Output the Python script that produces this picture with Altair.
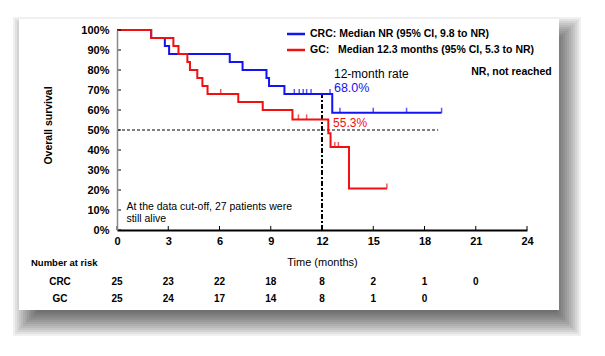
import altair as alt
import pandas as pd

# ---------------- data ----------------
crc_time = [0, 2.0, 2.8, 3.05, 6.6, 7.35, 8.75, 8.9, 9.8, 12.6, 19.0]
crc_surv = [100, 96, 92, 88, 84, 80, 76, 72, 68, 58.6, 58.6]
gc_time = [0, 2.0, 3.3, 3.6, 4.12, 4.27, 4.7, 5.0, 5.3, 7.1, 8.53, 10.27, 12.37, 12.5, 13.58, 15.8]
gc_surv = [100, 96, 92, 88, 84, 80, 76, 72, 68, 64, 60, 55.3, 48.4, 41.5, 20.7, 20.7]
crc_cens_time = [10.38, 10.67, 10.9, 11.1, 11.36, 12.47, 13.05, 15.0, 16.95, 19.0]
crc_cens_surv = [68, 68, 68, 68, 68, 68, 58.6, 58.6, 58.6, 58.6]
gc_cens_time = [6.07, 10.62, 11.1, 12.75, 12.96, 15.8]
gc_cens_surv = [68, 55.3, 55.3, 41.5, 41.5, 20.7]
risk_months_crc = [0, 3, 6, 9, 12, 15, 18, 21]
crc_risk = [25, 23, 22, 18, 8, 2, 1, 0]
risk_months_gc = [0, 3, 6, 9, 12, 15, 18]
gc_risk = [25, 24, 17, 14, 8, 1, 0]
x_ticks = [0, 3, 6, 9, 12, 15, 18, 21, 24]
y_ticks = [0, 10, 20, 30, 40, 50, 60, 70, 80, 90, 100]
median_line = 50
median_line_end = 18.8
landmark_month = 12
landmark_top = 68

BLUE = "#1414f0"
RED = "#f01010"
FONT = "Liberation Sans"

W, H = 410, 200

xscale = alt.Scale(domain=[0, 24], nice=False, zero=False)
yscale = alt.Scale(domain=[0, 100], nice=False)
xaxis = alt.Axis(values=x_ticks, title="Time (months)", grid=False, ticks=False, zindex=2,
                 domainColor="black", domainWidth=2, labelFont=FONT, labelFontSize=11,
                 labelFontWeight="bold", labelColor="black", labelPadding=5, labelFlush=False,
                 titleFont=FONT, titleFontSize=11, titleFontWeight="normal", titleColor="black",
                 titleY=32, titleBaseline="middle")
yaxis = alt.Axis(values=y_ticks, title="Overall survival", grid=False, ticks=False, zindex=2,
                 domainColor="#8a8a8a", domainWidth=1.5, labelFont=FONT, labelFontSize=11,
                 labelFontWeight="bold", labelColor="black", labelPadding=8,
                 labelExpr="datum.value + '%'",
                 titleFont=FONT, titleFontSize=10.5, titleFontWeight="bold", titleColor="black",
                 titleX=-69, titleY=95, titleAlign="center", titleBaseline="middle")


def X(f):
    return alt.X(f, type="quantitative", scale=xscale, axis=xaxis)


def Y(f):
    return alt.Y(f, type="quantitative", scale=yscale, axis=yaxis)


one = pd.DataFrame({"a": [0]})

# ---------------- framed box with drop shadow (decoration) ----------------
bx1, by1, bx2, by2 = -98, -11, 442, 280
layers = []
for s in range(-14, 15, 2):
    layers.append(alt.Chart(one).mark_rect(color="black", opacity=0.06).encode(
        x=alt.value(bx1 + 8 - s), x2=alt.value(bx2 + 8 + s),
        y=alt.value(by1 + 12 - s), y2=alt.value(by2 + 12 + s)))
layers.append(alt.Chart(one).mark_rect(color="white").encode(
    x=alt.value(bx1), x2=alt.value(bx2), y=alt.value(by1), y2=alt.value(by2)))

# ---------------- curves ----------------
crc_df = pd.DataFrame({"t": crc_time, "s": crc_surv})
gc_df = pd.DataFrame({"t": gc_time, "s": gc_surv})
crc_c = pd.DataFrame({"t": crc_cens_time, "s": crc_cens_surv})
gc_c = pd.DataFrame({"t": gc_cens_time, "s": gc_cens_surv})

med = pd.DataFrame({"t": [0], "t2": [median_line_end], "s": [median_line]})
land = pd.DataFrame({"t": [landmark_month], "s": [0], "s2": [landmark_top]})

layers += [
    alt.Chart(med).mark_rule(color="black", strokeWidth=1, strokeDash=[3, 2]).encode(
        x=X("t"), x2="t2", y=Y("s")),
    alt.Chart(land).mark_rule(color="black", strokeWidth=2, strokeDash=[5, 2, 2, 2]).encode(
        x=X("t"), y=Y("s"), y2="s2"),
    alt.Chart(crc_df).mark_line(interpolate="step-after", color=BLUE, strokeWidth=2).encode(
        x=X("t"), y=Y("s")),
    alt.Chart(gc_df).mark_line(interpolate="step-after", color=RED, strokeWidth=2).encode(
        x=X("t"), y=Y("s")),
    alt.Chart(crc_c).mark_tick(orient="vertical", color=BLUE, size=5, thickness=1.5, yOffset=-2.5).encode(
        x=X("t"), y=Y("s")),
    alt.Chart(gc_c).mark_tick(orient="vertical", color=RED, size=5, thickness=1.5, yOffset=-2.5).encode(
        x=X("t"), y=Y("s")),
]

# inward axis ticks
layers += [
    alt.Chart(pd.DataFrame({"s": y_ticks})).mark_rule(color="black", strokeWidth=1).encode(
        y=Y("s"), x=alt.value(0), x2=alt.value(4)),
    alt.Chart(pd.DataFrame({"t": x_ticks})).mark_rule(color="black", strokeWidth=1).encode(
        x=X("t"), y=alt.value(H), y2=alt.value(H - 4)),
]

# ---------------- annotations ----------------
def txt(df, **kw):
    base = dict(font=FONT, fontSize=11, color="black", align="left", baseline="middle")
    base.update(kw)
    return alt.Chart(df).mark_text(**base)


ann = pd.DataFrame({"t": [12.7], "s": [78], "label": ["12-month rate"]})
layers.append(txt(ann, fontSize=12).encode(x=X("t"), y=Y("s"), text="label:N"))
layers.append(txt(pd.DataFrame({"t": [12.7], "s": [71], "label": ["68.0%"]}), fontSize=12.5, color=BLUE)
              .encode(x=X("t"), y=Y("s"), text="label:N"))
layers.append(txt(pd.DataFrame({"t": [12.65], "s": [53.6], "label": ["55.3%"]}), fontSize=12, color=RED)
              .encode(x=X("t"), y=Y("s"), text="label:N"))
layers.append(txt(pd.DataFrame({"t": [25.45], "s": [79], "label": ["NR, not reached"]}), fontSize=10.5,
                  fontWeight="bold", align="right").encode(x=X("t"), y=Y("s"), text="label:N"))
layers.append(txt(pd.DataFrame({"t": [0.55, 0.55], "s": [11.5, 5.5],
                                "label": ["At the data cut-off, 27 patients were", "still alive"]}),
                  fontSize=10.5).encode(x=X("t"), y=Y("s"), text="label:N"))

# legend
layers += [
    alt.Chart(one).mark_rule(color=BLUE, strokeWidth=2.5).encode(
        x=alt.value(170), x2=alt.value(188), y=alt.value(4)),
    alt.Chart(one).mark_rule(color=RED, strokeWidth=2.5).encode(
        x=alt.value(170), x2=alt.value(188), y=alt.value(20)),
    txt(pd.DataFrame({"label": ["CRC: Median NR (95% CI, 9.8 to NR)"]}), fontSize=10.5, fontWeight="bold")
    .encode(x=alt.value(193), y=alt.value(4), text="label:N"),
    txt(pd.DataFrame({"label": ["GC:\u00a0\u00a0 Median 12.3 months (95% CI, 5.3 to NR)"]}), fontSize=10.5,
        fontWeight="bold").encode(x=alt.value(193), y=alt.value(20), text="label:N"),
]

# number at risk table
layers += [
    txt(pd.DataFrame({"label": ["Number at risk"]}), fontSize=9.5, fontWeight="bold")
    .encode(x=alt.value(-86), y=alt.value(233), text="label:N"),
    txt(pd.DataFrame({"label": ["CRC"]}), fontSize=10, fontWeight="bold", align="center")
    .encode(x=alt.value(-57), y=alt.value(252), text="label:N"),
    txt(pd.DataFrame({"label": ["GC"]}), fontSize=10, fontWeight="bold", align="center")
    .encode(x=alt.value(-57), y=alt.value(269), text="label:N"),
    txt(pd.DataFrame({"t": risk_months_crc, "n": crc_risk}), fontSize=10, fontWeight="bold", align="center")
    .encode(x=X("t"), y=alt.value(252), text="n:Q"),
    txt(pd.DataFrame({"t": risk_months_gc, "n": gc_risk}), fontSize=10, fontWeight="bold", align="center")
    .encode(x=X("t"), y=alt.value(269), text="n:Q"),
]

chart = alt.layer(*layers).properties(
    width=W, height=H,
    autosize=alt.AutoSizeParams(type="none"),
    padding={"left": 109, "top": 22, "right": 70, "bottom": 116},
    background="white",
).configure_view(stroke=None)

chart.save("out.html", embed_options={"renderer": "svg", "actions": False})
